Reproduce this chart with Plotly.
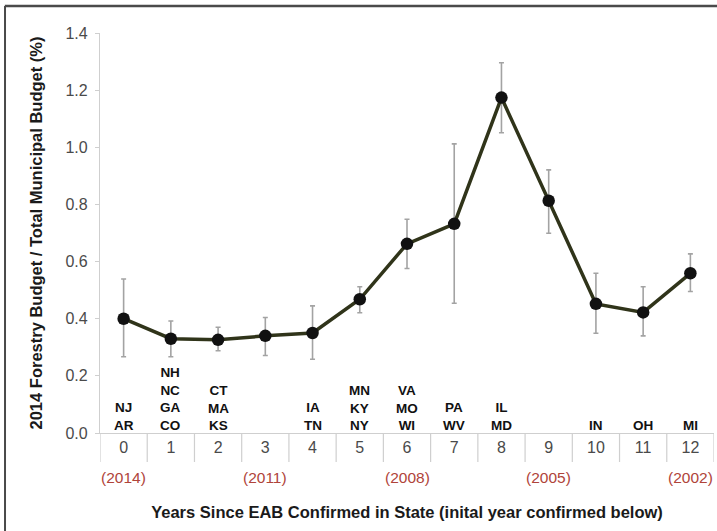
import plotly.graph_objects as go

# Years since EAB was confirmed in each state
years_since = ["0", "1", "2", "3", "4", "5", "6", "7", "8", "9", "10", "11", "12"]

# Mean forestry budget share (%) with error-bar limits
budget_mean = [0.40, 0.33, 0.326, 0.34, 0.35, 0.468, 0.662, 0.732, 1.174, 0.813, 0.452, 0.422, 0.559]
budget_upper = [0.539, 0.392, 0.370, 0.404, 0.445, 0.512, 0.748, 1.012, 1.296, 0.921, 0.559, 0.512, 0.627]
budget_lower = [0.267, 0.267, 0.288, 0.271, 0.258, 0.421, 0.576, 0.454, 1.051, 0.699, 0.349, 0.340, 0.495]

# States grouped by years since confirmation
state_groups = [
    ["NJ", "AR"], ["NH", "NC", "GA", "CO"], ["CT", "MA", "KS"], [], ["IA", "TN"],
    ["MN", "KY", "NY"], ["VA", "MO", "WI"], ["PA", "WV"], ["IL", "MD"], [],
    ["IN"], ["OH"], ["MI"],
]

# Initial confirmation year shown under selected categories
year_positions = ["0", "3", "6", "9", "12"]
year_labels = ["(2014)", "(2011)", "(2008)", "(2005)", "(2002)"]

FONT = "Arial, Liberation Sans, sans-serif"

err_plus = [u - m for u, m in zip(budget_upper, budget_mean)]
err_minus = [m - l for m, l in zip(budget_mean, budget_lower)]

fig = go.Figure()
fig.add_trace(go.Scatter(
    x=years_since, y=budget_mean,
    mode="lines+markers",
    line=dict(color="#30341a", width=3.5),
    marker=dict(color="#111111", size=12.5),
    error_y=dict(type="data", array=err_plus, arrayminus=err_minus,
                 color="#a3a3a3", thickness=1.6, width=2.5),
    showlegend=False,
))

annotations = []
for cat, states in zip(years_since, state_groups):
    if not states:
        continue
    annotations.append(dict(
        x=cat, y=0, xref="x", yref="paper", yanchor="bottom", yshift=-2,
        text="<br>".join(states), showarrow=False, align="center",
        font=dict(family=FONT, size=13.5, color="#111111", weight="bold"),
    ))
for cat, yr in zip(year_positions, year_labels):
    annotations.append(dict(
        x=cat, y=0, xref="x", yref="paper", yanchor="middle", yshift=-44,
        text=yr, showarrow=False,
        font=dict(family=FONT, size=15.5, color="#b0443a"),
    ))

# category separators below the baseline
shapes = []
for i in range(len(years_since) + 1):
    shapes.append(dict(type="line", xref="x", yref="paper",
                       x0=i - 0.5, x1=i - 0.5, y0=0, y1=-0.0725,
                       line=dict(color="#cfcfcf", width=1.2)))
# outer frame lines (top and left)
shapes.append(dict(type="line", xref="paper", yref="paper",
                   x0=-0.155, x1=1.01, y0=1.0675, y1=1.0675,
                   line=dict(color="#4a4a4a", width=2.5)))
shapes.append(dict(type="line", xref="paper", yref="paper",
                   x0=-0.1547, x1=-0.1547, y0=1.0675, y1=-0.3,
                   line=dict(color="#4a4a4a", width=2)))

fig.update_layout(
    width=717, height=531,
    margin=dict(l=100, r=3, t=33, b=98),
    paper_bgcolor="white", plot_bgcolor="white",
    font=dict(family=FONT),
    annotations=annotations,
    shapes=shapes,
    xaxis=dict(
        type="category", range=[-0.5, 12.5],
        showline=True, linecolor="#cfcfcf", linewidth=1.2,
        showgrid=False, zeroline=False, ticks="",
        tickfont=dict(family=FONT, size=16, color="#4a4a4a"),
        title=dict(text="Years Since EAB Confirmed in State (inital year confirmed below)",
                   font=dict(family=FONT, size=16.5, color="#1a1a1a", weight="bold"),
                   standoff=51),
        automargin=False,
    ),
    yaxis=dict(
        range=[0, 1.4], dtick=0.2, tickformat=".1f",
        showline=True, linecolor="#cfcfcf", linewidth=1.2,
        showgrid=False, zeroline=False,
        ticks="outside", ticklen=4, tickcolor="#cfcfcf",
        ticklabelstandoff=4,
        tickfont=dict(family=FONT, size=16, color="#4a4a4a"),
        title=dict(text="2014 Forestry Budget / Total Municipal Budget (%)",
                   font=dict(family=FONT, size=16.5, color="#1a1a1a", weight="bold"),
                   standoff=18),
        automargin=False,
    ),
)

fig.write_html("out.html")
